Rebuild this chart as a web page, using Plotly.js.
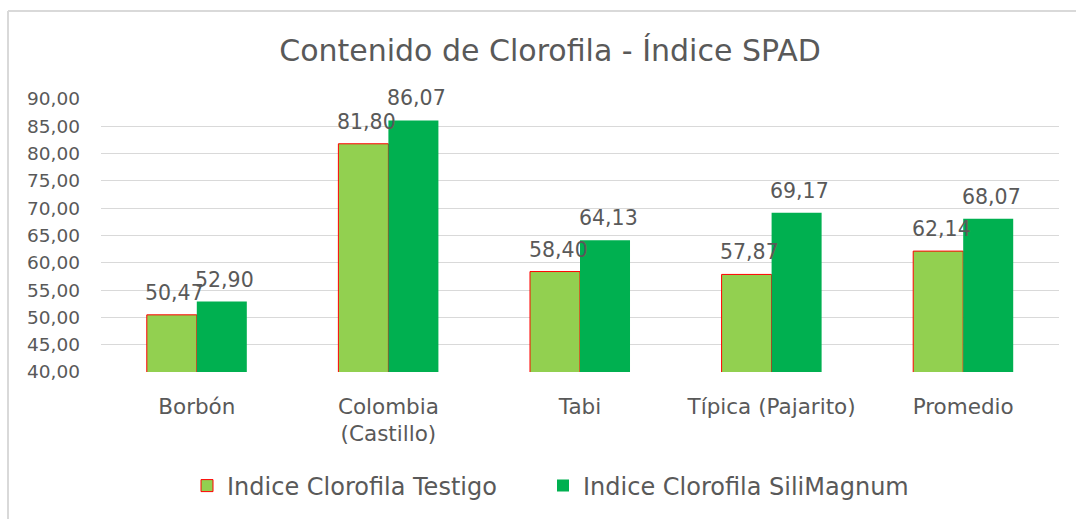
<!DOCTYPE html>
<html><head><meta charset="utf-8">
<script src="https://cdn.plot.ly/plotly-3.0.1.min.js"></script>
<style>html,body{margin:0;padding:0;background:#fff}#chart{width:1076px;height:519px}</style>
</head><body><div id="chart"></div>
<script>
const categories = ["Borbón", "Colombia<br>(Castillo)", "Tabi", "Típica (Pajarito)", "Promedio"];
const testigo = [50.47, 81.80, 58.40, 57.87, 62.14];
const silimagnum = [52.90, 86.07, 64.13, 69.17, 68.07];
const seriesNames = ["Indice Clorofila Testigo", "Indice Clorofila SiliMagnum"];
const tickVals = [40,45,50,55,60,65,70,75,80,85,90];

const fmt = v => v.toFixed(2).replace('.', ',');
const txt = '#595959';
const font = "'DejaVu Sans', 'Open Sans', sans-serif";

const traces = [
  {type:'bar', name:seriesNames[0], x:categories, y:testigo, legend:'legend',
   marker:{color:'#92D050', line:{color:'#FF0000', width:1}}, hoverinfo:'none'},
  {type:'bar', name:seriesNames[1], x:categories, y:silimagnum, legend:'legend2',
   marker:{color:'#00B050', line:{color:'#00B050', width:0}}, hoverinfo:'none'}
];

const annotations = [];
categories.forEach((c,i)=>{
  annotations.push({x:c, y:testigo[i], xref:'x', yref:'y', text:fmt(testigo[i]), showarrow:false,
    xshift:-22, yshift:8, yanchor:'bottom', font:{size:20.5, color:txt, family:font}});
  annotations.push({x:c, y:silimagnum[i], xref:'x', yref:'y', text:fmt(silimagnum[i]), showarrow:false,
    xshift:28, yshift:8, yanchor:'bottom', font:{size:20.5, color:txt, family:font}});
});

const L=101, R=1059, T=99, B=372;
const px = p => (p - L)/(R - L);
const py = p => (B - p)/(B - T);

const legendBase = {orientation:'h', xanchor:'left', xref:'paper', y:py(486), yanchor:'middle',
  font:{size:24, color:txt, family:font}, itemwidth:30, bgcolor:'rgba(0,0,0,0)'};

const layout = {
  width:1076, height:519,
  margin:{l:L, r:1076-R, t:T, b:519-B, pad:0, autoexpand:false},
  paper_bgcolor:'#fff', plot_bgcolor:'#fff',
  font:{family:font, color:txt},
  title:{text:'Contenido de Clorofila - Índice SPAD', font:{size:30, color:txt, family:font},
    x:550/1076, xref:'container', xanchor:'center', y:1-50/519, yanchor:'middle'},
  barmode:'group', bargap:0.478, bargroupgap:0,
  xaxis:{type:'category', showgrid:false, zeroline:false, showline:false, ticks:'',
    tickfont:{size:21.5, color:txt, family:font}, ticklabelstandoff:19, fixedrange:true},
  yaxis:{range:[40,90], tickvals:tickVals, ticktext:tickVals.map(fmt), showgrid:true, gridcolor:'#D9D9D9',
    gridwidth:1, zeroline:false, showline:false, ticks:'', tickfont:{size:18.5, color:txt, family:font},
    ticklabelstandoff:20, fixedrange:true},
  legend:Object.assign({}, legendBase, {x:px(187)}),
  legend2:Object.assign({}, legendBase, {x:px(543)}),
  showlegend:true,
  annotations:annotations,
  shapes:[
    {type:'line', xref:'paper', yref:'paper', x0:px(8), x1:px(1076), y0:py(11), y1:py(11), line:{color:'#D9D9D9', width:2}},
    {type:'line', xref:'paper', yref:'paper', x0:px(8), x1:px(8), y0:py(11), y1:py(519), line:{color:'#D9D9D9', width:2}}
  ]
};
traces.forEach(t=>t.cliponaxis=false);
Plotly.newPlot('chart', traces, layout, {displayModeBar:false, staticPlot:true});
</script></body></html>
